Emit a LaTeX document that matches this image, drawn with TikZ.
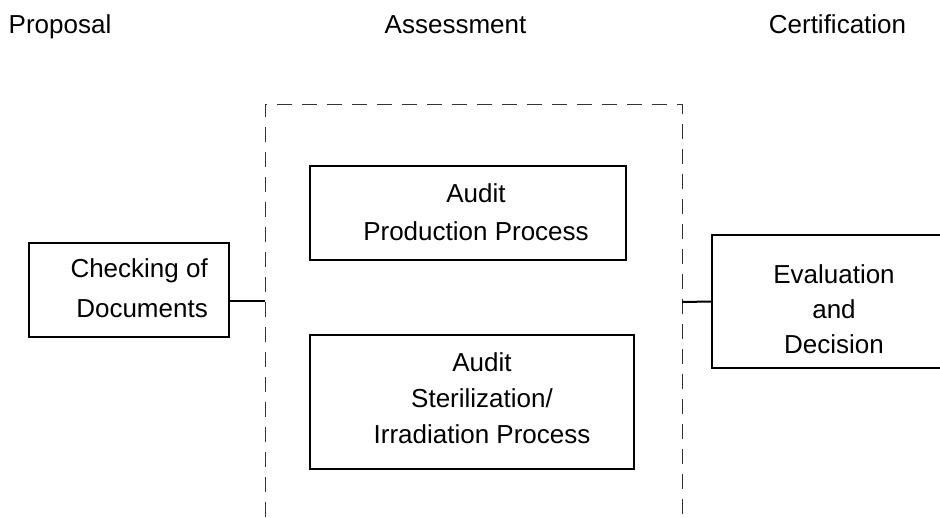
\documentclass[tikz,border=0pt]{standalone}
\usepackage{fontspec}
\setmainfont{Liberation Sans}
\begin{document}
\begin{tikzpicture}[x=1pt, y=-1pt,
	box/.style={draw, line width=1.6pt, inner sep=0pt},
	txt/.style={inner sep=0pt, align=center, font=\fontsize{26}{37}\selectfont},
	asm/.style={draw=black!80, line width=1pt, dash pattern=on 15pt off 10pt},
	link/.style={draw, line width=2pt}]
	\useasboundingbox (0,0) rectangle (940,517);
	%headings
	\node[txt, anchor=base] (prop) at (60,33) {Proposal};
	\node[txt, anchor=base] (ass) at (455.5,33) {Assessment};
	\node[txt, anchor=base] (cert) at (837.5,33) {Certification};
	%proposal
	\node[box, minimum width=200pt, minimum height=94pt] (chk) at (129,290) {};
	\node[txt, align=right, anchor=east, font=\fontsize{26}{40}\selectfont] (chktxt) at (208,288) {Checking of\\Documents};
	%assessment
	\coordinate (asmSW) at (265,517);
	\coordinate (asmNW) at (265,104);
	\coordinate (asmNE) at (682,104);
	\coordinate (asmSE) at (682,517);
	\draw[asm] (asmSW) -- (asmNW) -- (asmNE) -- (asmSE);
	\node[box, minimum width=316pt, minimum height=94pt] (prod) at (468,213) {};
	\node[txt, font=\fontsize{26}{38}\selectfont] (prodtxt) at (476,212) {Audit\\Production Process};
	\node[box, minimum width=324pt, minimum height=134pt] (ster) at (472,402) {};
	\node[txt, font=\fontsize{26}{36}\selectfont] (stertxt) at (482,398) {Audit\\Sterilization/\\Irradiation Process};
	%certification
	\node[box, minimum width=244pt, minimum height=133pt] (eval) at (834,301.5) {};
	\node[txt, font=\fontsize{26}{35}\selectfont] (evaltxt) at (834,309) {Evaluation\\and\\Decision};
	%links
	\coordinate (asmW) at (265,301);
	\coordinate (asmE) at (682,302);
	\draw[link] (chk.east |- asmW) -- (asmW);
	\draw[link] (asmE) -- (eval.west);
\end{tikzpicture}
\end{document}
